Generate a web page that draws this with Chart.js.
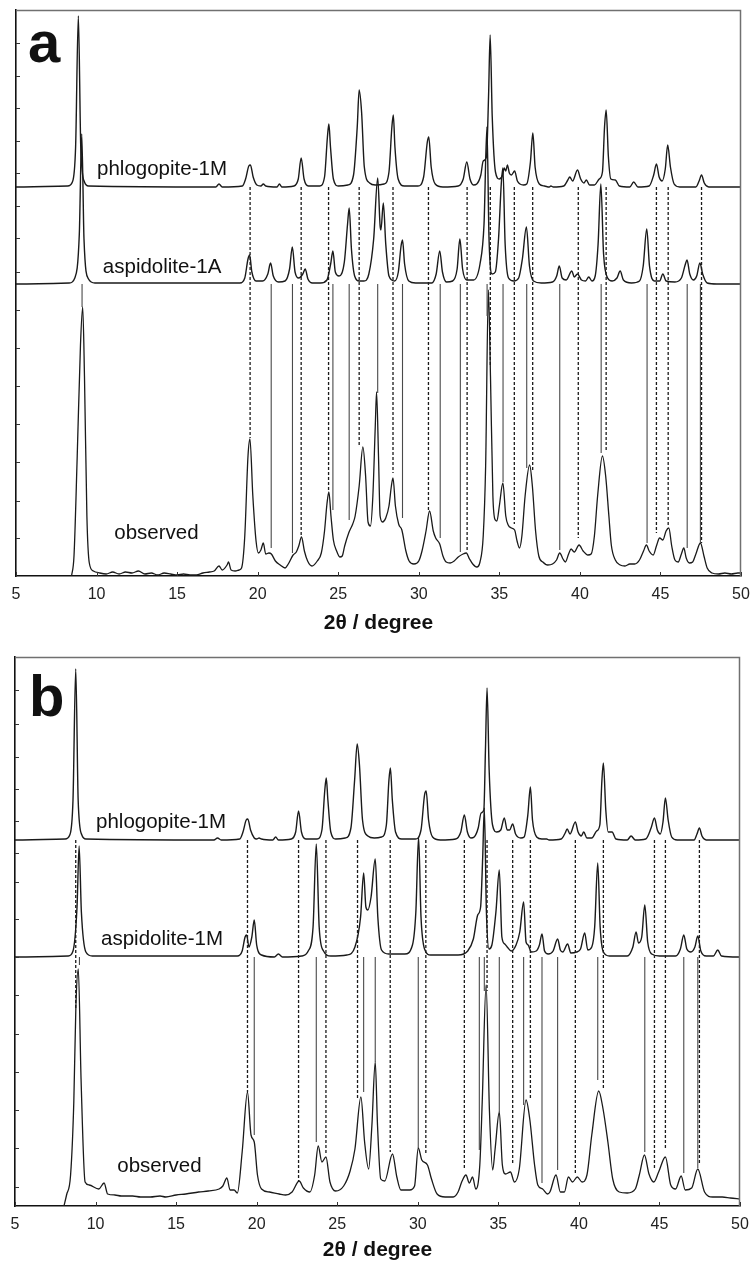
<!DOCTYPE html>
<html>
<head>
<meta charset="utf-8">
<script src="https://cdn.jsdelivr.net/npm/chart.js@4.4.1/dist/chart.umd.min.js"></script>
<style>
  html, body { margin: 0; padding: 0; background: #fff; }
  #wrap { position: relative; width: 751px; height: 1265px; overflow: hidden; }
  canvas { position: absolute; left: 0; }
</style>
</head>
<body>
<div id="wrap">
  <canvas id="ca" width="751" height="636" style="top:0;width:751px;height:636px"></canvas>
  <canvas id="cb" width="751" height="629" style="top:636px;width:751px;height:629px"></canvas>
</div>
<script>
// ---------------- DATA (2θ in degrees, intensity in arbitrary units) ----------------
const xTickValues = [5, 10, 15, 20, 25, 30, 35, 40, 45, 50];
const xTitle = '2θ / degree';

// Panel a
const labelsA = ['phlogopite-1M', 'aspidolite-1A', 'observed'];
const phlogOffsetA = 389;
const aspOffsetA = 292;
const yMaxA = 566;
const yTicksA = [38,75,114,152,190,228,266,304,338,370,403,435,468,500,533];

const phlogA = [[5,0],[8.2,1],[8.5,5],[8.7,40],[8.87,171],[9.02,40],[9.25,5],[9.5,1],
[17.4,0],[17.6,3],[17.8,0],
[19.05,1],[19.25,8],[19.45,21],[19.55,22],[19.72,10],[19.95,2],
[20.2,1],[20.35,3],[20.5,1],
[21.2,0],[21.35,3],[21.5,0],
[22.25,1],[22.52,8],[22.7,29],[22.88,8],[23.15,1],
[23.85,1],[24.15,10],[24.33,50],[24.42,63],[24.52,40],[24.7,8],[25.0,1],
[25.6,2],[25.95,12],[26.18,60],[26.3,97],[26.45,75],[26.62,20],[26.95,4],[27.3,2],
[27.85,3],[28.15,15],[28.33,60],[28.42,72],[28.52,40],[28.72,8],[29.1,1],
[29.95,1],[30.3,10],[30.53,45],[30.62,50],[30.77,20],[31.02,3],[31.5,0],
[32.45,1],[32.76,8],[32.98,25],[33.18,8],[33.4,2],
[33.6,3],[33.85,12],[34.0,26],[34.2,30],[34.33,90],[34.43,152],[34.56,70],[34.76,15],[35.0,8],[35.2,12],[35.3,19],[35.4,16],[35.5,22],[35.62,14],[35.75,12],[35.95,16],[36.12,6],[36.5,2],
[36.7,3],[36.93,25],[37.08,54],[37.22,20],[37.48,3],[37.8,1],
[38.1,0],[38.2,1],[38.35,0],
[39.0,1],[39.25,7],[39.37,10],[39.55,6],[39.85,17],[40.05,8],[40.25,4],[40.4,7],[40.6,2],[40.9,2],[41.2,8],[41.4,15],[41.53,60],[41.63,77],[41.77,30],[41.92,8],[42.2,7],[42.45,1],
[43.1,0],[43.34,5],[43.6,0],
[44.3,1],[44.58,12],[44.75,23],[44.92,10],[45.1,6],[45.3,18],[45.45,42],[45.62,20],[45.85,3],[46.2,0],
[47.2,0],[47.4,6],[47.55,12],[47.72,4],[48.0,0],[50,0]];

const aspA = [[5,0],[8.3,1],[8.65,6],[8.93,50],[9.08,150],[9.22,45],[9.5,5],[9.9,1],
[18.9,1],[19.2,6],[19.4,25],[19.5,29],[19.64,12],[19.9,3],[20.3,3],[20.63,10],[20.8,21],[20.97,8],[21.3,2],
[21.7,3],[21.98,15],[22.15,37],[22.32,12],[22.55,6],[22.8,10],[22.95,15],[23.12,5],[23.4,1],
[23.9,1],[24.3,4],[24.53,20],[24.67,33],[24.82,12],[25.05,8],[25.38,22],[25.58,60],[25.68,76],[25.82,35],[26.02,8],[26.3,3],
[26.6,3],[26.9,10],[27.2,45],[27.45,106],[27.6,58],[27.65,54],[27.8,81],[27.95,40],[28.15,8],[28.5,3],
[28.73,12],[28.9,38],[28.99,44],[29.12,20],[29.38,3],[29.8,1],
[30.8,1],[31.08,10],[31.3,33],[31.47,12],[31.72,2],[32.1,3],[32.38,15],[32.55,45],[32.72,15],[32.98,4],
[33.4,4],[33.8,20],[34.05,60],[34.23,157],[34.36,45],[34.55,10],[34.75,12],[34.95,45],[35.12,100],[35.22,116],[35.36,40],[35.57,6],[35.9,3],
[36.2,6],[36.43,25],[36.68,57],[36.87,18],[37.12,3],[37.6,1],
[38.3,2],[38.56,8],[38.72,18],[38.9,6],[39.15,4],[39.5,13],[39.65,7],[39.85,10],[40.1,4],[40.35,3],[40.55,7],[40.75,3],
[40.95,8],[41.13,40],[41.3,100],[41.47,30],[41.72,6],[42.0,3],[42.3,6],[42.5,13],[42.7,4],[43.2,1],
[43.7,3],[43.93,18],[44.15,55],[44.32,18],[44.62,3],[44.95,3],[45.15,10],[45.35,3],[45.9,2],
[46.3,6],[46.55,20],[46.65,24],[46.82,10],[47.05,4],[47.25,8],[47.45,21],[47.62,10],[47.9,1],[48.5,0],[50,0]];

const obsA = [[8.45,0],[8.6,20],[8.8,120],[9.0,230],[9.14,269],[9.25,200],[9.4,60],[9.55,13],[9.8,5],
[10.2,3],[10.6,2],[11.0,4],[11.4,2],[11.8,4],[12.2,3],[12.6,5],[13.0,2],[13.4,3],[13.8,1],[14.2,3],[14.6,2],[15.0,1],[15.4,2],[15.8,1],[16.2,1],[16.6,3],[17.0,4],[17.3,5],
[17.6,10],[17.8,6],[18.1,11],[18.19,14],[18.35,6],[18.6,5],[18.85,6],[19.0,8],[19.2,40],[19.4,120],[19.52,137],[19.7,80],[19.9,35],
[20.05,23],[20.2,26],[20.35,33],[20.5,22],[20.7,23],[20.85,22],[21.1,15],[21.4,11],[21.7,8],[21.9,12],[22.2,21],[22.4,24],[22.55,30],[22.72,39],[22.9,25],[23.1,15],[23.37,10],
[23.7,15],[23.95,23],[24.15,45],[24.3,72],[24.42,84],[24.55,60],[24.7,36],[24.9,25],[25.1,19],[25.25,20],[25.4,30],[25.65,43],[25.9,52],[26.05,60],[26.3,90],[26.53,129],[26.7,100],[26.85,54],
[27.0,50],[27.15,80],[27.3,150],[27.38,184],[27.5,120],[27.6,60],[27.75,54],[27.95,58],[28.15,70],[28.3,90],[28.4,98],[28.55,70],[28.75,52],[28.95,46],[29.2,25],[29.4,15],[29.7,12],
[30.0,15],[30.2,25],[30.45,45],[30.67,65],[30.9,45],[31.05,38],[31.3,32],[31.5,20],[31.7,14],[31.95,13],[32.2,15],[32.45,19],[32.75,22],[32.95,23],[33.15,17],[33.35,12],[33.6,9],
[33.8,14],[34.0,40],[34.15,110],[34.32,286],[34.45,200],[34.6,80],[34.75,56],[34.85,55],[35.0,70],[35.22,93],[35.4,60],[35.55,51],[35.75,48],[35.95,46],[36.1,35],[36.25,28],
[36.4,40],[36.6,80],[36.88,111],[37.05,90],[37.25,45],[37.45,20],[37.7,14],[38.0,11],[38.3,12],[38.55,16],[38.75,23],[38.95,17],[39.1,14],[39.3,22],[39.45,27],[39.65,24],[39.95,31],[40.2,25],[40.5,21],[40.7,22],
[40.9,40],[41.1,80],[41.4,120],[41.6,100],[41.8,60],[41.95,31],[42.2,16],[42.5,11],[42.8,10],[43.1,12],[43.4,12],[43.7,16],[43.95,25],[44.13,31],[44.3,25],[44.55,21],[44.75,30],[44.95,38],[45.15,36],[45.35,45],[45.52,48],[45.7,30],[45.9,16],
[46.1,14],[46.3,22],[46.45,28],[46.6,18],[46.8,13],[47.0,14],[47.2,22],[47.48,33],[47.7,20],[47.9,8],[48.2,3],[48.6,2],[49.0,3],[49.4,2],[49.8,3],[50,3]];

// reference lines: [2θ, intensity where the line meets the observed pattern]
const dashA = [[19.53,138],[22.7,41],[24.4,84],[26.3,131],[28.4,103],[30.6,66],[33.0,26],[34.44,210],[35.93,52],[37.07,106],[39.9,38],[41.63,124],[44.75,43],[45.48,49],[47.55,33]];
const solidA = [[9.1,269],[20.84,28],[22.16,23],[24.67,66],[25.68,56],[27.45,183],[28.99,58],[31.33,38],[32.58,24],[34.24,260],[35.23,94],[36.7,108],[38.75,26],[41.32,123],[44.17,33],[46.66,28],[47.48,33]];

// Panel b
const labelsB = ['phlogopite-1M', 'aspidolite-1M', 'observed'];
const phlogOffsetB = 366;
const aspOffsetB = 249;
const yMaxB = 549;
const yTicksB = [19,58,96,134,172,211,249,287,324,353,385,417,449,482,516];

const phlogB = [[5,0],[8.1,1],[8.4,5],[8.6,40],[8.77,171],[8.92,40],[9.15,5],[9.4,1],
[17.35,0],[17.57,2],[17.8,0],
[18.95,1],[19.15,8],[19.35,20],[19.45,21],[19.62,10],[19.85,2],
[20.0,1],[20.15,2],[20.3,1],
[21.0,0],[21.18,3],[21.35,0],
[22.15,1],[22.42,8],[22.6,29],[22.78,8],[23.05,1],
[23.75,1],[24.05,10],[24.23,50],[24.32,62],[24.42,40],[24.6,8],[24.9,1],
[25.5,2],[25.85,12],[26.08,60],[26.24,96],[26.38,75],[26.57,20],[26.9,4],[27.3,2],
[27.75,3],[28.05,15],[28.21,60],[28.3,72],[28.42,40],[28.62,8],[29.0,1],
[29.85,1],[30.2,10],[30.42,45],[30.52,49],[30.67,20],[30.92,3],[31.4,0],
[32.35,1],[32.67,8],[32.89,25],[33.08,8],[33.3,2],
[33.5,3],[33.75,12],[33.93,27],[34.1,30],[34.2,90],[34.3,152],[34.43,70],[34.64,15],[34.9,8],[35.15,10],[35.37,22],[35.55,10],[35.7,10],[35.89,16],[36.07,6],[36.4,2],
[36.6,3],[36.83,25],[36.99,53],[37.12,20],[37.38,3],[37.7,1],
[38.0,1],[38.15,0],
[38.9,1],[39.15,7],[39.27,11],[39.45,6],[39.78,18],[39.95,8],[40.15,4],[40.3,8],[40.5,2],[40.8,2],[41.1,9],[41.3,15],[41.43,60],[41.52,77],[41.67,30],[41.82,8],[42.06,8],[42.3,1],
[43.0,0],[43.24,4],[43.5,0],
[44.15,1],[44.48,12],[44.69,22],[44.87,10],[45.05,6],[45.22,18],[45.37,42],[45.54,20],[45.76,3],[46.1,0],
[47.15,0],[47.33,6],[47.48,12],[47.64,4],[47.9,0],[50,0]];

const aspB = [[5,0],[8.3,1],[8.6,6],[8.85,50],[8.98,111],[9.12,45],[9.4,5],[9.8,1],
[18.8,1],[19.1,6],[19.28,20],[19.38,22],[19.52,10],[19.7,20],[19.85,37],[20.0,12],[20.3,2],
[21.1,0],[21.35,3],[21.6,0],
[22.8,1],[23.2,6],[23.5,30],[23.7,113],[23.88,30],[24.15,6],[24.6,1],
[25.6,2],[26.1,10],[26.45,40],[26.64,84],[26.78,50],[26.9,47],[27.1,60],[27.36,98],[27.52,40],[27.75,7],[28.2,3],
[29.2,3],[29.67,12],[29.88,45],[30.05,120],[30.2,40],[30.42,8],[30.8,2],
[32.5,2],[33.1,6],[33.45,18],[33.72,42],[33.9,50],[34.03,100],[34.13,149],[34.26,45],[34.42,8],[34.6,12],[34.85,45],[35.06,87],[35.22,20],[35.4,13],[35.55,10],[35.8,6],
[36.1,12],[36.33,25],[36.57,55],[36.72,15],[36.85,12],[37.05,5],[37.35,6],[37.55,12],[37.71,23],[37.87,6],[38.1,3],[38.4,6],[38.68,18],[38.85,7],[39.0,5],[39.3,13],[39.5,4],[39.85,5],[40.1,8],[40.36,24],[40.55,7],
[40.8,10],[40.98,30],[41.17,94],[41.32,30],[41.52,5],[41.9,1],
[43.0,1],[43.35,10],[43.55,25],[43.7,14],[43.9,20],[44.09,52],[44.27,15],[44.52,3],[45.0,1],
[46.0,1],[46.3,8],[46.51,22],[46.7,8],[46.95,5],[47.2,10],[47.38,21],[47.57,6],[47.9,1],
[48.35,1],[48.62,7],[48.85,1],[50,0]];

const obsB = [[8.04,0],[8.2,11],[8.45,31],[8.65,104],[8.78,200],[8.93,237],[9.1,127],[9.35,24],[9.6,21],[10.2,17],[10.53,23],[10.75,12],[11.2,11],[11.6,10],[12.3,10],[12.8,9],[13.4,9],[14.0,10],[14.36,9],[15.0,11],[15.6,12],[16.4,14],[17.0,15],[17.67,17],[17.9,20],
[18.15,28],[18.35,16],[18.6,16],[18.8,13],[19.1,54],[19.43,114],[19.65,71],[19.85,64],[20.05,31],[20.3,17],[20.8,14],[21.4,12],[21.8,11],[22.2,14],[22.64,25],[22.9,18],[23.3,14],
[23.6,31],[23.82,60],[24.05,44],[24.3,49],[24.55,24],[24.9,15],[25.4,20],[25.8,35],[26.1,57],[26.47,109],[26.7,64],[26.95,37],[27.15,80],[27.36,144],[27.5,81],[27.7,27],[27.95,25],
[28.43,52],[28.7,29],[28.95,16],[29.5,16],[29.8,20],[30.03,58],[30.25,46],[30.6,41],[30.85,27],[31.2,12],[31.7,9],[32.2,9],[32.5,14],[32.75,25],[32.99,31],[33.2,23],[33.4,29],[33.6,17],
[33.85,41],[34.0,104],[34.24,221],[34.45,94],[34.65,36],[34.8,57],[35.06,94],[35.25,41],[35.45,32],[35.75,34],[36.0,24],[36.3,37],[36.72,106],[36.95,87],[37.25,41],[37.45,21],[37.75,17],[38.05,12],
[38.2,14],[38.58,31],[38.85,14],[39.1,14],[39.35,29],[39.6,24],[39.9,29],[40.2,24],[40.5,31],[40.8,71],[41.23,115],[41.5,97],[41.8,64],[42.1,27],[42.5,14],[43.0,13],[43.5,17],
[43.75,31],[44.07,51],[44.35,32],[44.65,24],[44.95,34],[45.37,49],[45.7,21],[46.0,17],[46.35,30],[46.6,16],[47.0,18],[47.38,37],[47.8,14],[48.3,9],[48.9,9],[49.4,8],[50,7]];

const dashB = [[8.77,198],[19.43,114],[22.6,24],[24.3,51],[26.26,108],[28.29,54],[30.5,51],[32.89,38],[34.3,215],[35.89,41],[36.99,106],[39.78,33],[41.52,116],[44.69,38],[45.37,58],[47.48,41]];
const solidB = [[9.0,241],[19.85,71],[23.7,64],[26.64,114],[27.36,144],[30.03,58],[33.82,56],[34.13,215],[35.06,94],[36.57,101],[37.71,23],[38.68,36],[41.17,126],[44.09,54],[46.51,33],[47.38,38]];

// ---------------- BUILD ----------------
const FONT = "'Liberation Sans', Arial, sans-serif";
const toPts = (arr, off) => arr.map(([x, y]) => ({ x, y: y + off }));
const toSegs = (arr, top) => {
  const out = [];
  arr.forEach(([x, y]) => { out.push({ x, y: top }, { x, y }, { x, y: null }); });
  return out;
};

const decor = {
  id: 'decor',
  afterDraw(chart, args, o) {
    const { ctx, chartArea: a, scales: { x, y } } = chart;
    ctx.save();
    // top and right frame
    ctx.strokeStyle = '#707070';
    ctx.lineWidth = 1.5;
    ctx.beginPath();
    ctx.moveTo(a.left, a.top + 0.5);
    ctx.lineTo(a.right - 0.5, a.top + 0.5);
    ctx.lineTo(a.right - 0.5, a.bottom);
    ctx.stroke();
    // inward ticks
    ctx.strokeStyle = '#333';
    ctx.lineWidth = 1;
    ctx.beginPath();
    o.yTicks.forEach(v => {
      const py = Math.round(y.getPixelForValue(v)) + 0.5;
      ctx.moveTo(a.left, py); ctx.lineTo(a.left + 4, py);
    });
    x.ticks.forEach(t => {
      const px = Math.round(x.getPixelForValue(t.value)) + 0.5;
      ctx.moveTo(px, a.bottom); ctx.lineTo(px, a.bottom - 4);
    });
    ctx.stroke();
    // trace labels
    ctx.fillStyle = '#111';
    ctx.textAlign = 'left';
    ctx.textBaseline = 'alphabetic';
    ctx.font = '20.5px ' + FONT;
    o.labels.forEach(L => ctx.fillText(L.text, x.getPixelForValue(L.x), y.getPixelForValue(L.y)));
    // panel letter
    ctx.font = 'bold 58px ' + FONT;
    ctx.fillText(o.letter, a.left + o.letterDx, a.top + o.letterDy);
    ctx.restore();
  }
};

function makeChart(id, cfg) {
  const ds = [
    { data: toSegs(cfg.dash, cfg.phlogOff), borderColor: '#1a1a1a', borderWidth: 1.3, borderDash: [3, 2], spanGaps: false, tension: 0 },
    { data: toSegs(cfg.solid, cfg.aspOff), borderColor: '#4a4a4a', borderWidth: 1.1, spanGaps: false, tension: 0 },
    { data: toPts(cfg.phlog, cfg.phlogOff), borderColor: '#1a1a1a', borderWidth: 1.4, cubicInterpolationMode: 'monotone' },
    { data: toPts(cfg.asp, cfg.aspOff), borderColor: '#1a1a1a', borderWidth: 1.4, cubicInterpolationMode: 'monotone' },
    { data: toPts(cfg.obs, 0), borderColor: '#1a1a1a', borderWidth: 1.3, cubicInterpolationMode: 'monotone' }
  ];
  ds.forEach(d => { d.pointRadius = 0; d.fill = false; });
  return new Chart(document.getElementById(id), {
    type: 'line',
    data: { datasets: ds },
    options: {
      responsive: false,
      animation: false,
      devicePixelRatio: 1,
      events: [],
      layout: { padding: cfg.pad, autoPadding: false },
      plugins: {
        legend: { display: false },
        tooltip: { enabled: false },
        decor: { yTicks: cfg.yTicks, labels: cfg.labels, letter: cfg.letter, letterDx: cfg.letterDx, letterDy: cfg.letterDy }
      },
      scales: {
        x: {
          type: 'linear', min: 5, max: 50,
          afterBuildTicks: s => { s.ticks = xTickValues.map(v => ({ value: v })); },
          afterFit: s => { s.height = cfg.xHeight; s.paddingLeft = 0; s.paddingRight = 0; },
          grid: { display: false, drawTicks: false },
          border: { display: true, color: '#111', width: 1.6 },
          ticks: { color: '#222', padding: 9, maxRotation: 0, autoSkip: false, font: { family: FONT, size: 16 } },
          title: { display: true, text: xTitle, color: '#111', padding: { top: 0, bottom: 0 }, font: { family: FONT, size: 21, weight: 'bold' } }
        },
        y: {
          type: 'linear', min: 0, max: cfg.yMax,
          afterFit: s => { s.width = 0; },
          grid: { display: false, drawTicks: false },
          border: { display: true, color: '#111', width: 1.6 },
          ticks: { display: false }
        }
      }
    },
    plugins: [decor]
  });
}

makeChart('ca', {
  phlog: phlogA, asp: aspA, obs: obsA, dash: dashA, solid: solidA,
  phlogOff: phlogOffsetA, aspOff: aspOffsetA, yMax: yMaxA, yTicks: yTicksA,
  pad: { top: 10, left: 16, right: 10, bottom: 0 }, xHeight: 60,
  letter: 'a', letterDx: 12, letterDy: 52,
  labels: [
    { text: labelsA[0], x: 10.03, y: phlogOffsetA + 12 },
    { text: labelsA[1], x: 10.39, y: aspOffsetA + 11 },
    { text: labelsA[2], x: 11.1, y: 37 }
  ]
});

makeChart('cb', {
  phlog: phlogB, asp: aspB, obs: obsB, dash: dashB, solid: solidB,
  phlogOff: phlogOffsetB, aspOff: aspOffsetB, yMax: yMaxB, yTicks: yTicksB,
  pad: { top: 21, left: 15, right: 11, bottom: 2 }, xHeight: 57,
  letter: 'b', letterDx: 14, letterDy: 59,
  labels: [
    { text: labelsB[0], x: 10.03, y: phlogOffsetB + 12 },
    { text: labelsB[1], x: 10.34, y: aspOffsetB + 12 },
    { text: labelsB[2], x: 11.35, y: 34 }
  ]
});
</script>
</body>
</html>
